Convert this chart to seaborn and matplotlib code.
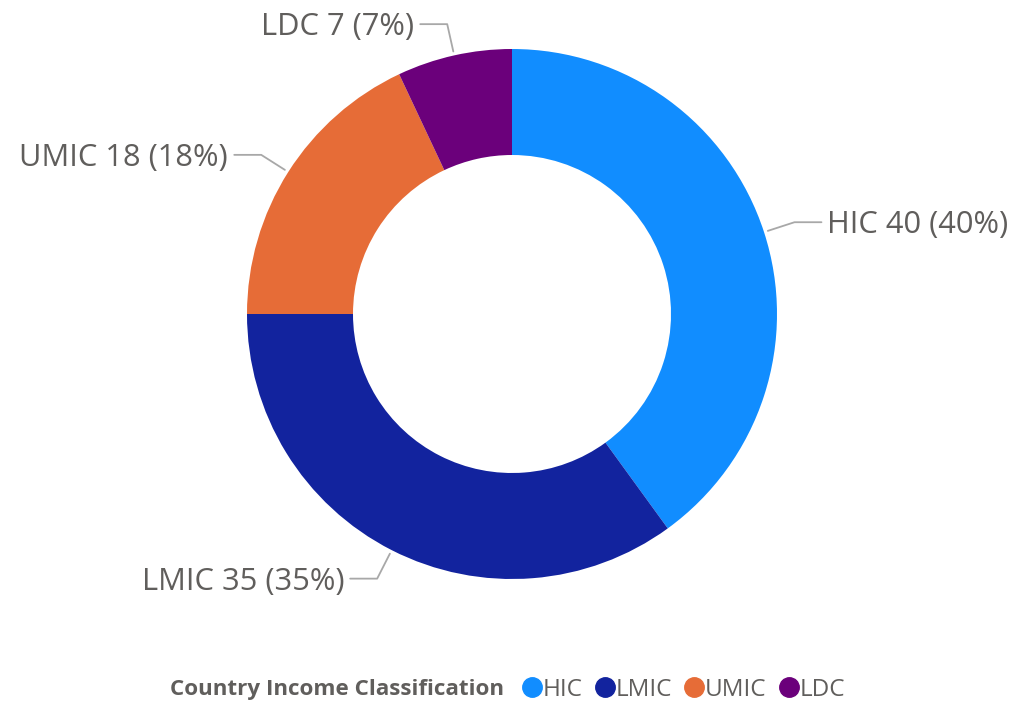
import numpy as np
import seaborn as sns
import matplotlib.pyplot as plt
from matplotlib.lines import Line2D

# data
categories = ['HIC', 'LMIC', 'UMIC', 'LDC']
counts = [40, 35, 18, 7]
colors = ['#118DFF', '#12239E', '#E66C37', '#6B007B']

sns.set_theme(style='white')
plt.rcParams['font.family'] = ['Open Sans', 'DejaVu Sans']
text_gray = '#605E5C'

W, H = 1015, 702
fig = plt.figure(figsize=(W / 100, H / 100), dpi=100)
ax = fig.add_axes([0, 0, 1, 1])

cx, cy, r = 512, 388, 265
pal = sns.color_palette(colors)
wedges, _ = ax.pie(counts, colors=pal, startangle=90, counterclock=False,
                   center=(cx, cy), radius=r, wedgeprops=dict(width=r - 159, linewidth=0),
                   frame=True)
ax.set_xlim(0, W)
ax.set_ylim(0, H)
ax.axis('off')

total = sum(counts)
for w, cat, n in zip(wedges, categories, counts):
    ang = np.deg2rad((w.theta1 + w.theta2) / 2)
    x0, y0 = cx + (r + 4) * np.cos(ang), cy + (r + 4) * np.sin(ang)
    x1, y1 = cx + (r + 32) * np.cos(ang), cy + (r + 32) * np.sin(ang)
    side = 1 if np.cos(ang) > 0 else -1
    x2 = x1 + side * 27
    ax.plot([x0, x1, x2], [y0, y1, y1], color='#A8A8A8', lw=1.3)
    ax.text(x2 + side * 6, y1 - 3, f'{cat} {n} ({n / total:.0%})',
            ha='left' if side > 0 else 'right', va='center',
            fontsize=22.2, color=text_gray)

# legend
fig.text(170 / W, 12 / H, 'Country Income Classification', fontsize=16.1,
         fontweight='bold', color=text_gray, va='center', ha='left')
handles = [Line2D([], [], marker='o', ls='', markersize=14, color=c) for c in colors]
fig.legend(handles, categories, loc='center left', bbox_to_anchor=(521 / W, 12 / H),
           ncol=4, frameon=False, fontsize=17.5, labelcolor=text_gray,
           handletextpad=0.0, columnspacing=0.45, handlelength=0.9,
           borderpad=0, borderaxespad=0)

fig.savefig('out.png', dpi=100)
